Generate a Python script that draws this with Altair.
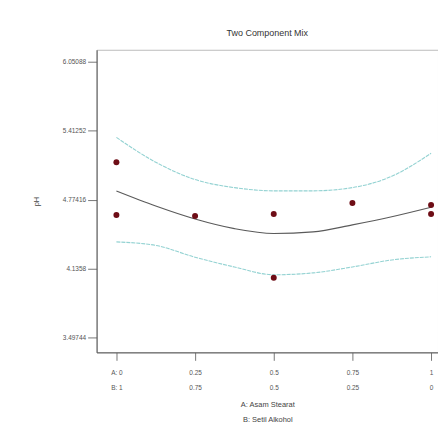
import altair as alt
import pandas as pd

# Observed design points
pt_x = [0, 0, 0.25, 0.5, 0.5, 0.75, 1, 1]
pt_y = [5.120, 4.631, 4.622, 4.641, 4.051, 4.742, 4.724, 4.641]

# Predicted curve and confidence bands
cx = [0, 0.125, 0.25, 0.375, 0.5, 0.625, 0.75, 0.875, 1]
fit_y = [4.853, 4.714, 4.594, 4.505, 4.460, 4.475, 4.540, 4.615, 4.703]
upper_y = [5.350, 5.120, 4.960, 4.885, 4.855, 4.855, 4.885, 4.990, 5.203]
lower_y = [4.382, 4.350, 4.240, 4.150, 4.078, 4.095, 4.150, 4.215, 4.244]

y_ticks = [3.49744, 4.1358, 4.77416, 5.41252, 6.05088]
y_labels = ["3.49744", "4.1358", "4.77416", "5.41252", "6.05088"]
x_ticks = [0, 0.25, 0.5, 0.75, 1]
a_labels = ["A: 0", "0.25", "0.5", "0.75", "1"]
b_labels = ["B: 1", "0.75", "0.5", "0.25", "0"]

pts = pd.DataFrame({"x": pt_x, "y": pt_y})
curves = pd.DataFrame({
    "x": cx * 3,
    "y": fit_y + upper_y + lower_y,
    "s": ["fit"] * len(cx) + ["upper"] * len(cx) + ["lower"] * len(cx),
})

x_label_expr = " ".join(
    f"datum.value == {v} ? ['{a}', '{b}'] :" for v, a, b in zip(x_ticks, a_labels, b_labels)
) + " ''"
y_label_expr = " ".join(
    f"abs(datum.value - {v}) < 0.001 ? '{l}' :" for v, l in zip(y_ticks, y_labels)
) + " ''"

xs = alt.Scale(domain=[-0.063, 1.022], nice=False, zero=False)
ys = alt.Scale(domain=[3.3592, 6.1615], nice=False, zero=False)

x_enc = alt.X("x:Q", scale=xs, axis=alt.Axis(
    values=x_ticks, labelExpr=x_label_expr, title=["A: Asam Stearat", "B: Setil Alkohol"],
    grid=False, tickSize=8, labelFontSize=6.5, labelColor="#555", labelLineHeight=15,
    labelPadding=9, titleFontSize=7.5, titleFontWeight="normal", titleColor="#444",
    titleLineHeight=15, titlePadding=10, domainColor="#555", tickColor="#777",
    labelFont="Liberation Sans", titleFont="Liberation Sans"))
y_enc = alt.Y("y:Q", scale=ys, axis=alt.Axis(
    values=y_ticks, labelExpr=y_label_expr, title="pH", grid=False, tickSize=9,
    labelFontSize=6.5, labelColor="#555", labelPadding=2, titleFontSize=7.5,
    titleFontWeight="normal", titleColor="#444", titlePadding=22,
    domainColor="#555", tickColor="#777", labelFont="Liberation Sans",
    titleFont="Liberation Sans"))

fit = alt.Chart(curves).transform_filter("datum.s == 'fit'").mark_line(
    color="#5a5a5a", strokeWidth=1.1, interpolate="monotone").encode(x=x_enc, y=y_enc)
bands = alt.Chart(curves).transform_filter("datum.s != 'fit'").mark_line(
    color="#93d2d2", strokeWidth=1.1, strokeDash=[4, 1], interpolate="monotone").encode(
    x=x_enc, y=y_enc, detail="s:N")
dots = alt.Chart(pts).mark_circle(size=36, color="#6e0d16", opacity=1).encode(x=x_enc, y=y_enc)

chart = (bands + fit + dots).properties(
    width=343, height=304,
    title=alt.TitleParams("Two Component Mix", fontSize=9, fontWeight="normal",
                          color="#333", font="Liberation Sans", offset=12),
    autosize=alt.AutoSizeParams(type="none"),
    padding={"left": 89, "top": 41, "right": 0, "bottom": 70},
).configure_view(stroke="#bbbbbb", strokeWidth=1)

chart.save("out.html", embed_options={"renderer": "svg", "actions": False})
